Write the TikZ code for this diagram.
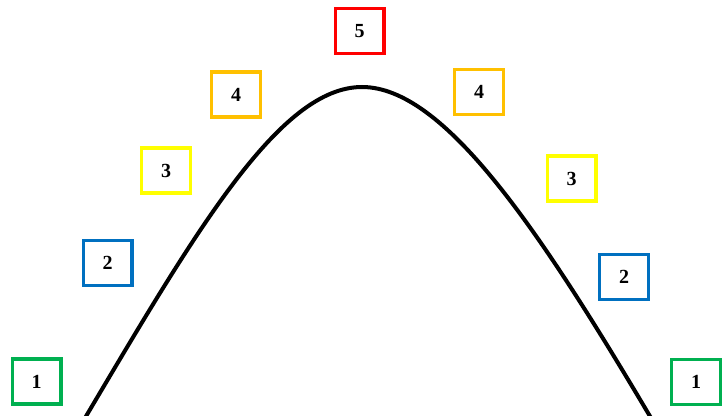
\documentclass[tikz,border=0pt]{standalone}
\usepackage{fontspec}
\setmainfont{Liberation Serif}
\definecolor{hijau}{RGB}{0,176,80}
\definecolor{biru}{RGB}{0,112,192}
\definecolor{kuning}{RGB}{255,255,0}
\definecolor{jingga}{RGB}{255,192,0}
\definecolor{merah}{RGB}{255,0,0}
\begin{document}
\begin{tikzpicture}[x=0.75pt,y=-0.75pt]
    % Sumbu y dibalik (y=-0.75pt): koordinat ditulis dalam piksel gambar.
    \tikzset{
      kotak/.style={draw,line width=2.6pt,minimum width=36.4pt,
        minimum height=34pt,inner sep=0pt,
        font=\fontsize{15}{15}\selectfont\bfseries},
      kurva/.style={line width=3pt}}
    \useasboundingbox (0,0) rectangle (723,416);
    % Kurva berbentuk lonceng
    \coordinate (awal) at (85,418);
    \coordinate (puncak) at (362,87);
    \coordinate (akhir) at (651,418);
    \draw[kurva] (awal) .. controls (197,229) and (280,87) .. (puncak)
      .. controls (444,87) and (539,229) .. (akhir);
    % Kotak bernomor, sisi kiri lalu sisi kanan
    \node[kotak,draw=hijau] (kiri1) at (36.5,381.5) {1};
    \node[kotak,draw=biru] (kiri2) at (107.5,263) {2};
    \node[kotak,draw=kuning] (kiri3) at (166,170.5) {3};
    \node[kotak,draw=jingga] (kiri4) at (236,94.5) {4};
    \node[kotak,draw=merah] (lima) at (359.5,31) {5};
    \node[kotak,draw=jingga] (kanan4) at (479,92) {4};
    \node[kotak,draw=kuning] (kanan3) at (571.5,178.5) {3};
    \node[kotak,draw=biru] (kanan2) at (624,277) {2};
    \node[kotak,draw=hijau] (kanan1) at (696,382) {1};
  \end{tikzpicture}
\end{document}
